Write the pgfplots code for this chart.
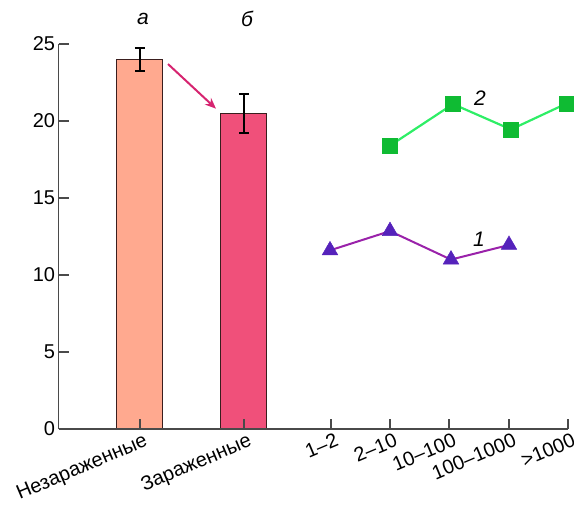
\documentclass[border=0pt]{standalone}
\usepackage{fontspec}
\setmainfont{Liberation Sans}
\usepackage{pgfplots}
\pgfplotsset{compat=1.18}
\usetikzlibrary{arrows.meta}
\definecolor{barA}{HTML}{FFA98F}
\definecolor{barB}{HTML}{F0507A}
\definecolor{barEdge}{HTML}{3A1E1E}
\definecolor{gline}{HTML}{2EEE66}
\definecolor{gmark}{HTML}{0FBB33}
\definecolor{pline}{HTML}{9A22AA}
\definecolor{pmark}{HTML}{5522BB}
\definecolor{arr}{HTML}{D62470}
\definecolor{axc}{HTML}{4A4A4A}
\begin{document}
\begin{tikzpicture}
\path[use as bounding box] (-58.6pt,-78pt) rectangle (515.4pt,429pt);
\begin{axis}[
  scale only axis,
  width=509.4pt, height=385pt,
  xmin=58.6, xmax=568,
  ymin=0, ymax=25,
  clip=false,
  axis x line=bottom, axis y line=left,
  axis line style={-, line width=1.6pt, color=axc},
  tick style={line width=1.6pt, color=axc},
  tick align=inside,
  major tick length=10pt,
  ytick={0,5,10,15,20,25},
  xtick={140,244,331,390,449,509,568},
  xticklabels={Незараженные,Зараженные,1--2,2--10,10--100,100--1000,>1000},
  xticklabel style={rotate=23, anchor=north east, xshift=5pt, yshift=-1pt},
  ticklabel style={font=\fontsize{20}{23}\selectfont},
  /pgf/number format/assume math mode=true,
  axis on top,
]
\addplot[ybar, bar shift=0pt, bar width=46, fill=barA, draw=barEdge, line width=1pt,
  error bars/.cd, y dir=both, y explicit,
  error bar style={line width=2pt, black},
  error mark options={rotate=90, mark size=5pt, line width=2pt, black}]
  coordinates {(140,24.0) +- (0,0.75)};
\addplot[ybar, bar shift=0pt, bar width=46, fill=barB, draw=barEdge, line width=1pt,
  error bars/.cd, y dir=both, y explicit,
  error bar style={line width=2pt, black},
  error mark options={rotate=90, mark size=5pt, line width=2pt, black}]
  coordinates {(244,20.5) +- (0,1.25)};
\addplot[color=gline, line width=2.2pt, mark=square*, mark size=7.5pt,
  mark options={fill=gmark, draw=gmark, line width=0.5pt}]
  coordinates {(390,18.4) (453,21.1) (511,19.45) (567,21.15)};
\addplot[color=pline, line width=2pt, mark=triangle*, mark size=9pt,
  mark options={fill=pmark, draw=pmark, line width=0.5pt}]
  coordinates {(330,11.6) (390,12.85) (451,11.0) (509,11.95)};
\node[font=\fontsize{21}{24}\selectfont\itshape] at (axis cs:143,26.6) {а};
\node[font=\fontsize{21}{24}\selectfont\itshape] at (axis cs:247,26.6) {б};
\node[font=\fontsize{21}{24}\selectfont\itshape] at (axis cs:480,21.5) {2};
\node[font=\fontsize{21}{24}\selectfont\itshape] at (axis cs:479,12.35) {1};
\draw[arr, line width=2pt, -{Stealth[length=11pt, width=9pt]}] (axis cs:168,23.7) -- (axis cs:216,20.8);
\end{axis}
\end{tikzpicture}
\end{document}
